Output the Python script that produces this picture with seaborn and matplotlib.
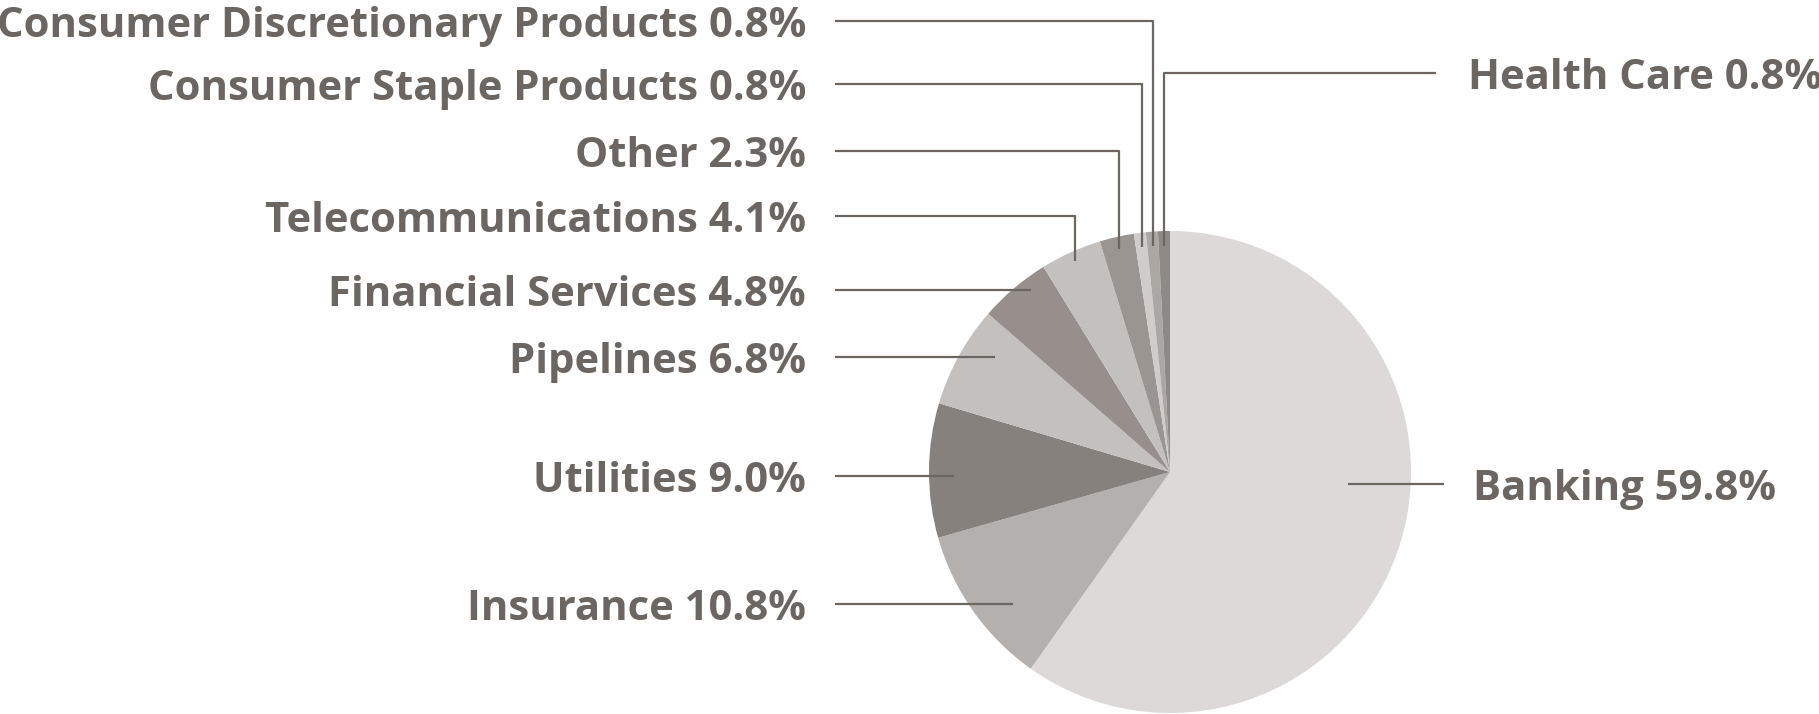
import matplotlib
matplotlib.use("Agg")
import matplotlib.pyplot as plt
import seaborn as sns
import numpy as np

# ---- data ----
sectors = ["Banking", "Insurance", "Utilities", "Pipelines", "Financial Services",
           "Telecommunications", "Other", "Consumer Staple Products",
           "Consumer Discretionary Products", "Health Care"]
shares = [59.8, 10.8, 9.0, 6.8, 4.8, 4.1, 2.3, 0.8, 0.8, 0.8]
colors = ["#dcd9d8", "#b4b0ae", "#86817d", "#c4c0bd", "#968f8b",
          "#c4c0bd", "#9a9591", "#d0ccc9", "#aba7a4", "#8e8985"]

# ---- layout (pixels of the 1819x714 canvas) ----
W, H = 1819, 714
CX, CY, R = 1170, 472, 241
TEXT_COLOR = "#6b6661"
# per sector: (side, label_y, mode, param)
layout = {
    "Banking": ("right", 484, "straight", 1348),
    "Insurance": ("left", 604, "straight", 1013),
    "Utilities": ("left", 476, "straight", 954),
    "Pipelines": ("left", 357, "straight", 995),
    "Financial Services": ("left", 290, "straight", 1031),
    "Telecommunications": ("left", 216, "elbow", 0.96),
    "Other": ("left", 151, "elbow", 0.95),
    "Consumer Staple Products": ("left", 84, "elbow", 0.94),
    "Consumer Discretionary Products": ("left", 21, "elbow", 0.94),
    "Health Care": ("right", 73, "elbow", 0.94),
}
LEFT_TEXT_X, LEFT_LINE_X = 806, 835
RIGHT_TEXT_X = {"Banking": 1473, "Health Care": 1468}
RIGHT_LINE_X = {"Banking": 1444, "Health Care": 1436}


def to_data(x, y):
    return (x - CX) / R, (CY - y) / R


sns.set_theme(style="white")
plt.rcParams["font.family"] = ["Open Sans", "DejaVu Sans"]

fig = plt.figure(figsize=(W / 100, H / 100), dpi=100)
ax = fig.add_axes([0, 0, 1, 1])

ax.pie(shares, colors=colors, startangle=90, counterclock=False, radius=1,
       center=(0, 0), wedgeprops=dict(linewidth=0), frame=True)
ax.set_xlim(-CX / R, (W - CX) / R)
ax.set_ylim(-(H - CY) / R, CY / R)
ax.set_aspect("auto")
ax.axis("off")

total = sum(shares)
cum = 0.0
for name, val in zip(sectors, shares):
    mid_frac = (cum + val / 2) / total
    cum += val
    ang = np.deg2rad(90 - 360 * mid_frac)
    side, ly, mode, p = layout[name]
    label = f"{name} {val:.1f}%"
    _, yd = to_data(0, ly)
    if side == "left":
        sx, _ = to_data(LEFT_LINE_X, 0)
        tx, _ = to_data(LEFT_TEXT_X, 0)
        ha = "right"
    else:
        sx, _ = to_data(RIGHT_LINE_X[name], 0)
        tx, _ = to_data(RIGHT_TEXT_X[name], 0)
        ha = "left"
    if mode == "straight":
        ex, _ = to_data(p, 0)
        xs, ys = [sx, ex], [yd, yd]
    else:
        ex, ey = p * np.cos(ang), p * np.sin(ang)
        xs, ys = [sx, ex, ex], [yd, yd, ey]
    ax.plot(xs, ys, color=TEXT_COLOR, lw=1.6, solid_capstyle="butt", zorder=5)
    ax.text(tx, yd, label, ha=ha, va="center_baseline", fontsize=30.2,
            fontweight="bold", color=TEXT_COLOR)

fig.savefig("out.png", dpi=100)
